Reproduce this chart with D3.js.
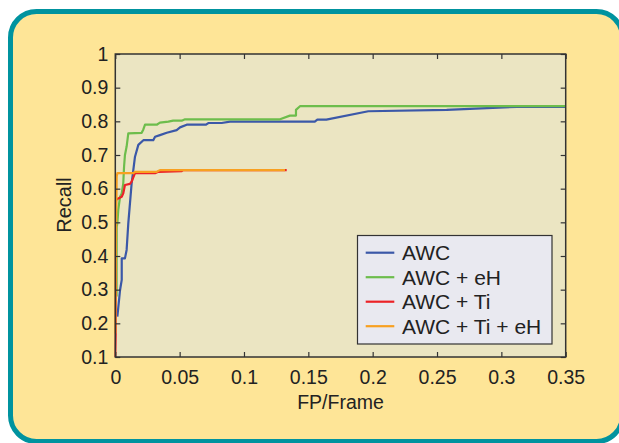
<!DOCTYPE html>
<html>
<head>
<meta charset="utf-8">
<script src="https://cdn.jsdelivr.net/npm/d3@7"></script>
<style>
  body { margin: 0; background: #fff; }
  svg text { font-family: "Liberation Sans", Arial, Helvetica, sans-serif; fill: #222; }
</style>
</head>
<body>
<div id="chart"></div>
<script>
// series: [FP/Frame, Recall]
var awc = [[0.0016, 0.22], [0.0037, 0.299], [0.005, 0.329], [0.005, 0.393], [0.0075, 0.393],
  [0.0088, 0.418], [0.0101, 0.497], [0.0127, 0.616], [0.0153, 0.695], [0.0179, 0.73],
  [0.0218, 0.744], [0.0295, 0.744], [0.0309, 0.754], [0.0347, 0.759], [0.040, 0.766],
  [0.0477, 0.774], [0.0503, 0.782], [0.0555, 0.79], [0.0705, 0.79], [0.0723, 0.795],
  [0.0827, 0.795], [0.0891, 0.799], [0.155, 0.799], [0.157, 0.805], [0.164, 0.805],
  [0.1966, 0.83], [0.2575, 0.834], [0.312, 0.843], [0.35, 0.843]];
var awcEh = [[0.001, 0.28], [0.0011, 0.487], [0.0016, 0.497], [0.0023, 0.537], [0.0037, 0.576],
  [0.005, 0.586], [0.0062, 0.616], [0.0068, 0.665], [0.0075, 0.70], [0.0088, 0.725],
  [0.0101, 0.764], [0.0205, 0.766], [0.0218, 0.776], [0.0231, 0.79], [0.0322, 0.79],
  [0.0347, 0.796], [0.0412, 0.799], [0.045, 0.802], [0.0516, 0.802], [0.0542, 0.806],
  [0.128, 0.806], [0.1357, 0.817], [0.1404, 0.817], [0.1404, 0.834], [0.1435, 0.845],
  [0.35, 0.845]];
var awcTi = [[0, 0.1], [0.0003, 0.17], [0.0005, 0.566], [0.0023, 0.571], [0.005, 0.576],
  [0.0062, 0.586], [0.0075, 0.611], [0.0114, 0.614], [0.0127, 0.621], [0.0153, 0.646],
  [0.0309, 0.646], [0.0334, 0.65], [0.0516, 0.652], [0.0528, 0.655], [0.1332, 0.655]];
var awcTiEh = [[0, 0.17], [0.0005, 0.447], [0.0011, 0.636], [0.0016, 0.646], [0.014, 0.646],
  [0.0153, 0.65], [0.0322, 0.65], [0.0347, 0.655], [0.1319, 0.655]];

var seriesNames = ["AWC", "AWC + eH", "AWC + Ti", "AWC + Ti + eH"];
var seriesColors = ["#3b58a8", "#6dbd4c", "#ec2227", "#f8a020"];
var xTicks = [0, 0.05, 0.1, 0.15, 0.2, 0.25, 0.3, 0.35];
var yTicks = [0.1, 0.2, 0.3, 0.4, 0.5, 0.6, 0.7, 0.8, 0.9, 1];

var W = 619, H = 443;
var plot = {left: 115.3, right: 565.7, top: 54, bottom: 357};

var svg = d3.select("#chart").append("svg")
  .attr("width", W).attr("height", H);

// rounded teal frame
svg.append("rect")
  .attr("x", 10.5).attr("y", 11.5)
  .attr("width", 612).attr("height", 430)
  .attr("rx", 26).attr("ry", 26)
  .attr("fill", "#fee597")
  .attr("stroke", "#00939f")
  .attr("stroke-width", 5);

var x = d3.scaleLinear().domain([0, 0.35]).range([plot.left, plot.right]);
var y = d3.scaleLinear().domain([0.1, 1]).range([plot.bottom, plot.top]);

svg.append("rect")
  .attr("x", plot.left).attr("y", plot.top)
  .attr("width", plot.right - plot.left).attr("height", plot.bottom - plot.top)
  .attr("fill", "#ebe5c2");

svg.append("clipPath").attr("id", "clip")
  .append("rect")
  .attr("x", plot.left - 1).attr("y", plot.top)
  .attr("width", plot.right - plot.left + 1).attr("height", plot.bottom - plot.top);

var line = d3.line().x(function(d){ return x(d[0]); }).y(function(d){ return y(d[1]); });

var g = svg.append("g").attr("clip-path", "url(#clip)");
[awc, awcEh, awcTi, awcTiEh].forEach(function(s, i){
  g.append("path")
    .datum(s)
    .attr("d", line)
    .attr("fill", "none")
    .attr("stroke", seriesColors[i])
    .attr("stroke-width", 2.2)
    .attr("stroke-linejoin", "round");
});

// axes, MATLAB style box with inward ticks
function fmt(v){ return String(+v.toFixed(2)); }

var axisStyle = function(sel){
  sel.select(".domain").remove();
  sel.selectAll(".tick line").attr("stroke", "#333").attr("stroke-width", 1.2);
  sel.selectAll(".tick text").style("font-size", "19.5px").attr("fill", "#222");
};

svg.append("g")
  .attr("transform", "translate(0," + plot.bottom + ")")
  .call(d3.axisBottom(x).tickValues(xTicks).tickFormat(fmt).tickSizeInner(-5).tickPadding(13))
  .call(axisStyle);
svg.append("g")
  .attr("transform", "translate(0," + plot.top + ")")
  .call(d3.axisTop(x).tickValues(xTicks).tickFormat("").tickSizeInner(-5))
  .call(axisStyle);
svg.append("g")
  .attr("transform", "translate(" + plot.left + ",0)")
  .call(d3.axisLeft(y).tickValues(yTicks).tickFormat(fmt).tickSizeInner(-5).tickPadding(7))
  .call(axisStyle);
svg.append("g")
  .attr("transform", "translate(" + plot.right + ",0)")
  .call(d3.axisRight(y).tickValues(yTicks).tickFormat("").tickSizeInner(-5))
  .call(axisStyle);

svg.append("rect")
  .attr("x", plot.left).attr("y", plot.top)
  .attr("width", plot.right - plot.left).attr("height", plot.bottom - plot.top)
  .attr("fill", "none").attr("stroke", "#333").attr("stroke-width", 1.5);

svg.append("text")
  .attr("x", (plot.left + plot.right) / 2).attr("y", 409)
  .attr("text-anchor", "middle")
  .style("font-size", "19.5px")
  .text("FP/Frame");

svg.append("text")
  .attr("transform", "translate(71,205) rotate(-90)")
  .attr("text-anchor", "middle")
  .style("font-size", "20px")
  .text("Recall");

// legend
var legend = svg.append("g");
legend.append("rect")
  .attr("x", 357.5).attr("y", 235.5)
  .attr("width", 194.5).attr("height", 108.5)
  .attr("fill", "#e9e9f0").attr("stroke", "#333").attr("stroke-width", 1.2);

var rows = legend.selectAll("g.row").data(seriesNames).enter().append("g")
  .attr("class", "row")
  .attr("transform", function(d, i){ return "translate(0," + (252.7 + i * 24.5) + ")"; });
rows.append("line")
  .attr("x1", 365.7).attr("x2", 394.3)
  .attr("stroke", function(d, i){ return seriesColors[i]; })
  .attr("stroke-width", 2.2);
rows.append("text")
  .attr("x", 402).attr("dy", "0.36em")
  .style("font-size", "21px")
  .text(function(d){ return d; });
</script>
</body>
</html>
